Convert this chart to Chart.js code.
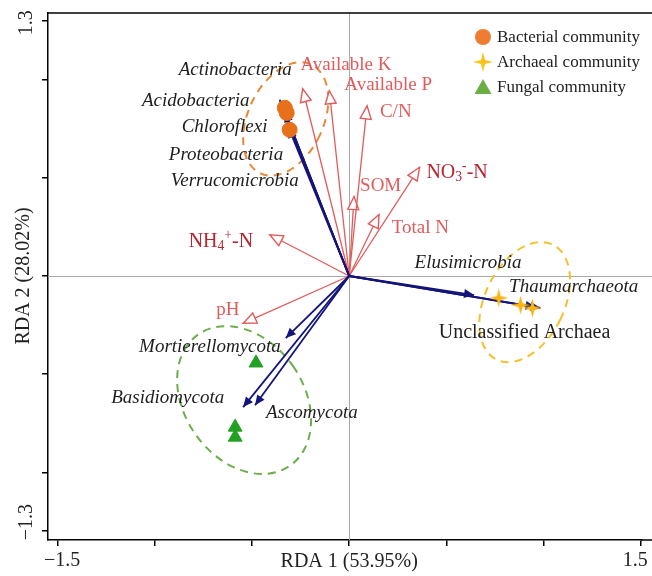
<!DOCTYPE html>
<html><head><meta charset="utf-8">
<script src="https://cdn.jsdelivr.net/npm/chart.js@4/dist/chart.umd.min.js"></script>
<style>html,body{margin:0;padding:0;background:#fff;overflow:hidden}</style>
</head><body>
<canvas id="c" width="652" height="576"></canvas>
<script>
// ---- Environmental factor vectors (RDA1, RDA2) ----
const envNames = ['Available K','Available P','C/N','SOM','Total N','NO₃⁻-N','NH₄⁺-N','pH'];
const envX = [-0.239,-0.102,0.092,0.025,0.153,0.362,-0.408,-0.545];
const envY = [0.954,0.944,0.867,0.405,0.313,0.554,0.210,-0.241];
// ---- Taxa (response) vectors ----
const taxaNames = ['Actinobacteria','Acidobacteria','Chloroflexi','Proteobacteria','Verrucomicrobia',
  'Elusimicrobia','Thaumarchaeota','Unclassified Archaea','Mortierellomycota','Basidiomycota','Ascomycota'];
const taxaX = [-0.357,-0.346,-0.331,-0.321,-0.311,0.642,0.983,0.958,-0.326,-0.545,-0.484];
const taxaY = [0.898,0.877,0.836,0.796,0.755,-0.097,-0.163,-0.158,-0.316,-0.668,-0.658];
// ---- Community sample scores ----
const communityNames = ['Bacterial community','Archaeal community','Fungal community'];
const bactX = [-0.331,-0.321,-0.306], bactY = [0.857,0.831,0.745];
const archX = [0.769,0.881,0.942],   archY = [-0.112,-0.148,-0.163];
const fungX = [-0.479,-0.586,-0.586], fungY = [-0.443,-0.770,-0.821];
// ---- Confidence ellipses: centre, semi-axes (data units), rotation (deg) ----
const ellCX = [-0.326, 0.902, -0.540];
const ellCY = [0.800, -0.133, -0.632];
const ellA  = [0.194, 0.204, 0.306];
const ellB  = [0.306, 0.326, 0.408];
const ellRot = [25, 26, -35];
// ---- Axes ----
const xTicks = [-1.5,-1,-0.5,0,0.5,1,1.5];
const yTicks = [-1.3,-1,-0.5,0,0.5,1,1.3];
const xTickLabels = ['−1.5','1.5'];
const yTickLabels = ['1.3','−1.3'];
const xTitle = 'RDA 1 (53.95%)', yTitle = 'RDA 2 (28.02%)';
// ---- Label anchors (data units) ----
const xTickLabelAt = [-1.475, 1.47];
const yTickLabelAt = [1.29, -1.254];
const envLabX = [-0.250,-0.025,0.158,0.056,0.219,0.397,-0.825,-0.683];
const envLabY = [1.077,0.974,0.837,0.459,0.245,0.525,0.173,-0.173];
const taxaLabX = [-0.876,-1.065,-0.861,-0.927,-0.917,0.336,0.822,0.460,-1.080,-1.223,-0.428];
const taxaLabY = [1.050,0.892,0.760,0.617,0.484,0.066,-0.056,-0.290,-0.362,-0.622,-0.699];

const SERIF = '"Liberation Serif","Times New Roman",serif';
const RED = '#E25B5B', DARKRED = '#B82530', NAVY = '#14147A';

function makeStar(size, color){
  const c = document.createElement('canvas'); c.width = c.height = size;
  const g = c.getContext('2d'); const r = size/2, k = r*0.2;
  g.fillStyle = color; g.beginPath();
  g.moveTo(r,0); g.lineTo(r+k,r-k); g.lineTo(size,r); g.lineTo(r+k,r+k);
  g.lineTo(r,size); g.lineTo(r-k,r+k); g.lineTo(0,r); g.lineTo(r-k,r-k); g.closePath(); g.fill();
  return c;
}
const starImg = makeStar(19, '#F8B512');
const starLeg = makeStar(20, '#FFC21A');

const pts = (xs, ys) => xs.map((v,i)=>({x:v, y:ys[i]}));
const datasets = [];
envX.forEach((v,i)=>datasets.push({type:'scatter', label:envNames[i], data:[{x:0,y:0},{x:v,y:envY[i]}],
  showLine:true, borderColor:RED, borderWidth:1.3, pointRadius:0, fill:false, order:5, arrow:'open'}));
taxaX.forEach((v,i)=>datasets.push({type:'scatter', label:taxaNames[i], data:[{x:0,y:0},{x:v,y:taxaY[i]}],
  showLine:true, borderColor:NAVY, borderWidth:1.8, pointRadius:0, fill:false, order:4, arrow:'solid'}));
datasets.push({type:'scatter', label:communityNames[0], data:pts(bactX,bactY), pointStyle:'circle', pointRadius:7.5,
  backgroundColor:'#E8701A', borderColor:'#E8701A', order:1});
datasets.push({type:'scatter', label:communityNames[1], data:pts(archX,archY), pointStyle:starImg, pointRadius:9, order:1});
datasets.push({type:'scatter', label:communityNames[2], data:pts(fungX,fungY), pointStyle:'triangle', pointRadius:8,
  backgroundColor:'#22A022', borderColor:'#22A022', order:1});

const supMap = {'⁺':'+','⁻':'-'}, subMap = {'₃':'3','₄':'4'};
function drawRich(ctx, text, x, y, size, style){
  let cx = x, run = '';
  const flush = () => { if(!run) return; ctx.font = `${style} ${size}px ${SERIF}`; ctx.fillText(run, cx, y); cx += ctx.measureText(run).width; run=''; };
  for (const ch of text){
    if (subMap[ch] || supMap[ch]){
      flush();
      const s = size*0.68; ctx.font = `${style} ${s}px ${SERIF}`;
      const t = subMap[ch] || supMap[ch];
      ctx.fillText(t, cx, subMap[ch] ? y + size*0.22 : y - size*0.32);
      cx += ctx.measureText(t).width;
    } else run += ch;
  }
  flush();
}

const rdaPlugin = {
  id:'rda',
  beforeDatasetsDraw(chart){
    const {ctx, chartArea:a, scales:{x, y}} = chart;
    ctx.save();
    const x0 = Math.round(x.getPixelForValue(0))+0.5, y0 = Math.round(y.getPixelForValue(0))+0.5;
    ctx.strokeStyle = '#A8A8A8'; ctx.lineWidth = 1;
    ctx.beginPath(); ctx.moveTo(x0,a.top); ctx.lineTo(x0,a.bottom); ctx.moveTo(a.left,y0); ctx.lineTo(chart.width,y0); ctx.stroke();
    ctx.strokeStyle = '#000'; ctx.lineWidth = 1.5;
    ctx.beginPath(); ctx.moveTo(a.left,a.top); ctx.lineTo(chart.width,a.top);
    ctx.moveTo(a.right-1,a.bottom); ctx.lineTo(chart.width,a.bottom); ctx.stroke();
    const ellColors = ['#E8893A','#F2C12E','#6DAE4C'];
    const ux = Math.abs(x.getPixelForValue(1)-x.getPixelForValue(0));
    const uy = Math.abs(y.getPixelForValue(1)-y.getPixelForValue(0));
    ctx.lineWidth = 2; ctx.setLineDash([8,6]);
    ellCX.forEach((cx,i)=>{
      ctx.strokeStyle = ellColors[i];
      ctx.beginPath();
      ctx.ellipse(x.getPixelForValue(cx), y.getPixelForValue(ellCY[i]), ellA[i]*ux, ellB[i]*uy, ellRot[i]*Math.PI/180, 0, Math.PI*2);
      ctx.stroke();
    });
    ctx.restore();
  },
  afterDatasetDraw(chart, args){
    const ds = chart.data.datasets[args.index];
    if (!ds.arrow) return;
    const {ctx, scales:{x, y}} = chart;
    const p0 = ds.data[0], p1 = ds.data[1];
    const x0 = x.getPixelForValue(p0.x), y0 = y.getPixelForValue(p0.y);
    const x1 = x.getPixelForValue(p1.x), y1 = y.getPixelForValue(p1.y);
    const ang = Math.atan2(y1-y0, x1-x0);
    ctx.save(); ctx.translate(x1,y1); ctx.rotate(ang);
    ctx.beginPath();
    if (ds.arrow === 'open'){
      ctx.moveTo(0,0); ctx.lineTo(-13,-5.5); ctx.lineTo(-13,5.5); ctx.closePath();
      ctx.fillStyle = '#fff'; ctx.fill(); ctx.strokeStyle = RED; ctx.lineWidth = 1.4; ctx.stroke();
    } else {
      ctx.moveTo(0,0); ctx.lineTo(-10,-4.5); ctx.lineTo(-10,4.5); ctx.closePath();
      ctx.fillStyle = NAVY; ctx.fill();
    }
    ctx.restore();
  },
  afterDatasetsDraw(chart){
    const {ctx, scales:{x, y}} = chart;
    ctx.save();
    ctx.textBaseline = 'middle'; ctx.textAlign = 'left';
    envNames.forEach((n,i)=>{
      const special = /[₃₄]/.test(n);
      ctx.fillStyle = special ? DARKRED : RED;
      drawRich(ctx, n, x.getPixelForValue(envLabX[i]), y.getPixelForValue(envLabY[i]), special ? 20 : 19, 'normal');
    });
    ctx.fillStyle = '#1E1E1E';
    taxaNames.forEach((n,i)=>{
      const italic = n !== 'Unclassified Archaea';
      ctx.font = `${italic?'italic':'normal'} ${italic?19:20}px ${SERIF}`;
      ctx.fillText(n, x.getPixelForValue(taxaLabX[i]), y.getPixelForValue(taxaLabY[i]));
    });
    const lx = 483, ly = [37,62,87];
    ctx.fillStyle = '#EE7D31'; ctx.beginPath(); ctx.arc(lx, ly[0], 8, 0, Math.PI*2); ctx.fill();
    ctx.drawImage(starLeg, lx-10, ly[1]-10);
    ctx.fillStyle = '#6BAE45'; ctx.beginPath(); ctx.moveTo(lx, ly[2]-8); ctx.lineTo(lx+8.5, ly[2]+7); ctx.lineTo(lx-8.5, ly[2]+7); ctx.closePath(); ctx.fill();
    ctx.fillStyle = '#222'; ctx.font = `17px ${SERIF}`;
    communityNames.forEach((n,i)=>ctx.fillText(n, 497, ly[i]+1));
    ctx.font = `20px ${SERIF}`; ctx.fillStyle = '#222'; ctx.textAlign = 'center';
    const by = 561;
    xTickLabels.forEach((t,i)=>ctx.fillText(t, x.getPixelForValue(xTickLabelAt[i]), by));
    ctx.fillText(xTitle, x.getPixelForValue(0), by+1);
    const lxp = 27;
    yTickLabels.forEach((t,i)=>{
      ctx.save(); ctx.translate(lxp, y.getPixelForValue(yTickLabelAt[i])); ctx.rotate(-Math.PI/2); ctx.fillText(t,0,0); ctx.restore();
    });
    ctx.save(); ctx.translate(lxp-3, y.getPixelForValue(0)); ctx.rotate(-Math.PI/2); ctx.fillText(yTitle,0,0); ctx.restore();
    ctx.restore();
  }
};

const axisCommon = {
  type:'linear',
  ticks:{display:false},
  grid:{display:true, drawOnChartArea:false, drawTicks:true, tickLength:6, color:'#000', lineWidth:1.5},
  border:{display:true, color:'#000', width:1.5},
  title:{display:false}
};
new Chart(document.getElementById('c'), {
  type:'scatter',
  data:{datasets},
  options:{
    responsive:false, animation:false, devicePixelRatio:1,
    layout:{padding:{left:42, top:13, right:0, bottom:30}},
    plugins:{legend:{display:false}, tooltip:{enabled:false}},
    scales:{
      x:Object.assign({}, axisCommon, {min:-1.548, max:1.505, afterBuildTicks:s=>{s.ticks = xTicks.map(v=>({value:v}));}}),
      y:Object.assign({}, axisCommon, {min:-1.345, max:1.34, afterBuildTicks:s=>{s.ticks = yTicks.map(v=>({value:v}));}})
    }
  },
  plugins:[rdaPlugin]
});
</script>
</body></html>
